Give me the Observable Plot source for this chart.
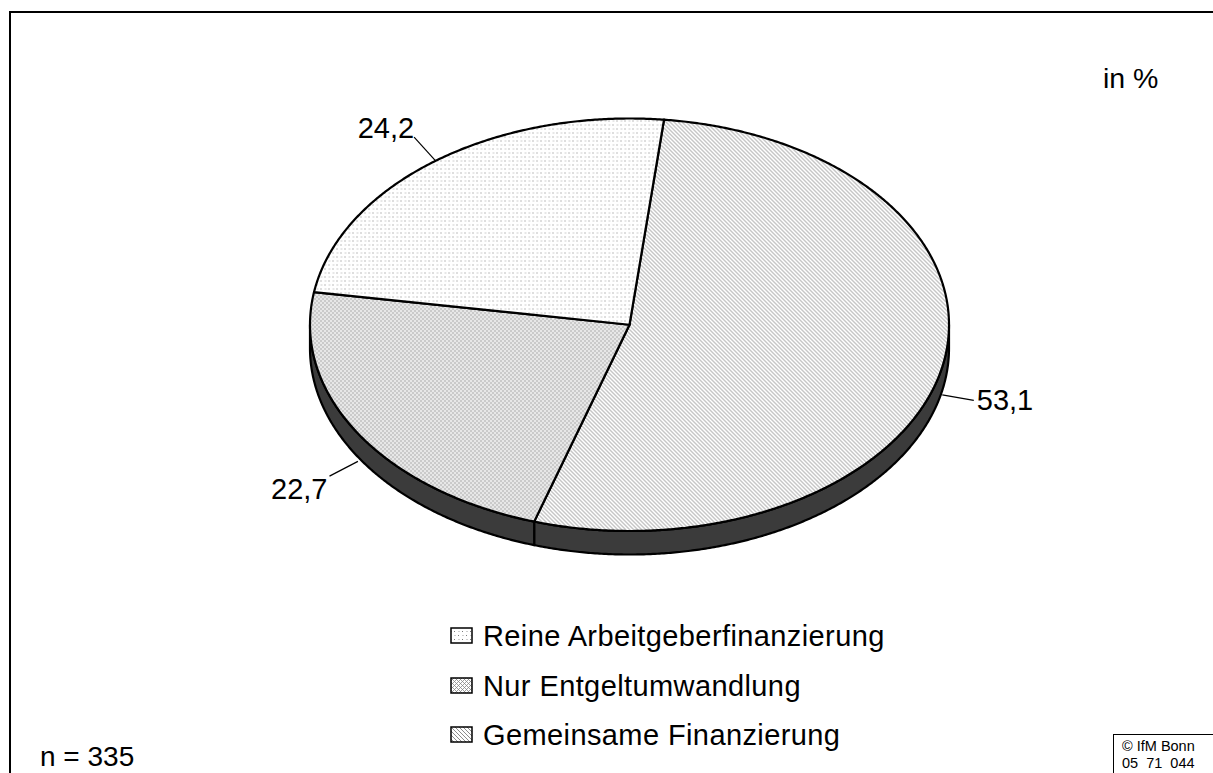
<!DOCTYPE html>
<html>
<head>
<meta charset="utf-8">
<script src="https://cdn.jsdelivr.net/npm/d3@7"></script>
<script src="https://cdn.jsdelivr.net/npm/@observablehq/plot@0.6"></script>
<style>
html,body{margin:0;padding:0;background:#fff;overflow:hidden;width:1213px;height:773px;}
#root{position:relative;width:1213px;height:773px;overflow:hidden;font-family:"Liberation Sans",Arial,sans-serif;color:#000;}
#frame{position:absolute;left:9px;top:11px;width:1400px;height:1000px;border-left:2px solid #000;border-top:2px solid #000;}
#chart{position:absolute;left:0;top:0;}
.txt{position:absolute;white-space:nowrap;line-height:1;}
#legend .row{position:absolute;left:450px;height:30px;white-space:nowrap;}
#legend svg{position:absolute;left:0;top:6px;}
#legend span{position:absolute;left:33px;top:0;font-size:29px;letter-spacing:0.4px;line-height:30px;}
#copy{position:absolute;left:1113px;top:734px;width:200px;height:100px;border:1px solid #000;font-size:14.5px;line-height:17px;padding:3px 0 0 8px;box-sizing:border-box;}
</style>
</head>
<body>
<svg width="0" height="0" style="position:absolute">
  <defs>
    <pattern id="pReine" width="8" height="8" patternUnits="userSpaceOnUse">
      <rect width="8" height="8" fill="#fff"/>
      <rect x="0" y="0" width="1" height="1" fill="#7a7a7a"/>
      <rect x="4" y="4" width="1" height="1" fill="#7a7a7a"/>
      <rect x="4" y="0" width="2" height="1" fill="#cfcfcf"/>
      <rect x="0" y="4" width="2" height="1" fill="#cfcfcf"/>
    </pattern>
    <pattern id="pNur" width="4" height="4" patternUnits="userSpaceOnUse">
      <rect width="4" height="4" fill="#fff"/>
      <rect x="0" y="0" width="1" height="1" fill="#8c8c8c"/>
      <rect x="2" y="2" width="1" height="1" fill="#8c8c8c"/>
      <rect x="1" y="1" width="1" height="1" fill="#a0a0a0"/>
      <rect x="3" y="1" width="1" height="1" fill="#a0a0a0"/>
      <rect x="1" y="3" width="1" height="1" fill="#a0a0a0"/>
      <rect x="3" y="3" width="1" height="1" fill="#a0a0a0"/>
    </pattern>
    <pattern id="pGem" width="4" height="4" patternUnits="userSpaceOnUse">
      <rect width="4" height="4" fill="#fff"/>
      <rect x="0" y="0" width="1" height="1" fill="#8c8c8c"/>
      <rect x="1" y="1" width="1" height="1" fill="#8c8c8c"/>
      <rect x="2" y="2" width="1" height="1" fill="#8c8c8c"/>
      <rect x="3" y="3" width="1" height="1" fill="#8c8c8c"/>
    </pattern>
  </defs>
</svg>
<div id="root">
  <div id="frame"></div>
  <div id="chart"></div>
  <div class="txt" id="unit" style="left:1103px;top:64px;font-size:28.5px;">in %</div>
  <div class="txt" id="n" style="left:40px;top:743px;font-size:28px;">n = 335</div>
  <div id="legend"></div>
  <div id="copy">© IfM Bonn<br>05&nbsp;&nbsp;71&nbsp;&nbsp;044</div>
</div>
<script>
// ---- data ----
const categories = ["Reine Arbeitgeberfinanzierung", "Nur Entgeltumwandlung", "Gemeinsame Finanzierung"];
const values = [24.2, 22.7, 53.1];
const valueLabels = ["24,2", "22,7", "53,1"];
const patternFills = ["url(#pReine)", "url(#pNur)", "url(#pGem)"];
const drawOrder = [2, 1, 0]; // clockwise from start angle

// ---- geometry (unit ellipse, y up) ----
const startDeg = 6.2;
const depth = 0.114;       // side thickness in y units
const total = d3.sum(values);
const rad = Math.PI / 180;
let acc = startDeg * rad;
const slices = drawOrder.map(i => {
  const a0 = acc;
  acc += values[i] / total * 2 * Math.PI;
  return {i, a0, a1: acc, mid: (a0 + acc) / 2};
});
const pt = (a, dy = 0) => [Math.sin(a), Math.cos(a) + dy];
function arcPts(a0, a1, dy = 0) {
  const n = Math.max(2, Math.ceil(Math.abs(a1 - a0) / (0.4 * rad)));
  return d3.range(n + 1).map(k => pt(a0 + (a1 - a0) * k / n, dy));
}

const tops = [], sides = [];
slices.forEach(s => {
  const key = categories[s.i];
  const poly = [[0, 0], ...arcPts(s.a0, s.a1), [0, 0]];
  poly.forEach(([x, y]) => tops.push({key, x, y}));
  const v0 = Math.max(s.a0, Math.PI / 2), v1 = Math.min(s.a1, 3 * Math.PI / 2);
  if (v1 > v0) {
    const sp = [...arcPts(v0, v1), ...arcPts(v1, v0, -depth)];
    sp.push(sp[0]);
    sp.forEach(([x, y]) => sides.push({key, x, y}));
  }
});

// leader lines and labels
const RX = 319.5, RY = 206.25;
const labels = slices.map(s => {
  const sn = Math.sin(s.mid), cs = Math.cos(s.mid);
  const front = cs < 0 ? -28 / RY : 0;
  const x1 = sn, y1 = cs + front;
  let ox = sn * RX, oy = cs * RY * 1.3;
  const len = Math.hypot(ox, oy);
  ox = ox / len * 32; oy = oy / len * 32;
  const x2 = x1 + ox / RX, y2 = y1 + oy / RY;
  const tx = x2 + (sn > 0 ? 3 : (cs > 0.4 ? 0 : -2)) / RX;
  const ty = y2 + (cs > 0.4 ? 8 : cs < -0.4 ? -14 : 0) / RY;
  return {label: valueLabels[s.i], x1, y1, x2, y2, tx, ty, right: sn > 0};
});

const marks = [];
slices.forEach(s => {
  const key = categories[s.i];
  const d = sides.filter(p => p.key === key);
  if (d.length) marks.push(Plot.line(d, {x: "x", y: "y", fill: "#3b3b3b", stroke: "#000", strokeWidth: 2.2, strokeLinejoin: "round"}));
});
slices.forEach(s => {
  const key = categories[s.i];
  marks.push(Plot.line(tops.filter(p => p.key === key), {x: "x", y: "y", fill: patternFills[s.i], stroke: "#000", strokeWidth: 2.2, strokeLinejoin: "round"}));
});
marks.push(Plot.link(labels, {x1: "x1", y1: "y1", x2: "x2", y2: "y2", stroke: "#000", strokeWidth: 1.2}));
marks.push(Plot.text(labels.filter(d => d.right), {x: "tx", y: "ty", text: "label", textAnchor: "start", fontSize: 29, fill: "#000"}));
marks.push(Plot.text(labels.filter(d => !d.right), {x: "tx", y: "ty", text: "label", textAnchor: "end", fontSize: 29, fill: "#000"}));

const chart = Plot.plot({
  width: 1213,
  height: 773,
  margin: 0,
  x: {domain: [-1, 1], range: [309.5, 948.5], axis: null},
  y: {domain: [-1, 1], range: [530.5, 118], axis: null},
  style: {background: "transparent", fontFamily: "'Liberation Sans', Arial, sans-serif", overflow: "visible"},
  marks
});
document.getElementById("chart").appendChild(chart);

// legend
const legend = document.getElementById("legend");
categories.forEach((c, k) => {
  const row = document.createElement("div");
  row.className = "row";
  row.style.top = (621 + k * 49.5) + "px";
  row.innerHTML = `<svg width="24" height="18"><rect x="1" y="1" width="21" height="15" fill="${patternFills[k]}" stroke="#000" stroke-width="1.5"/></svg><span>${c}</span>`;
  legend.appendChild(row);
});
</script>
</body>
</html>
